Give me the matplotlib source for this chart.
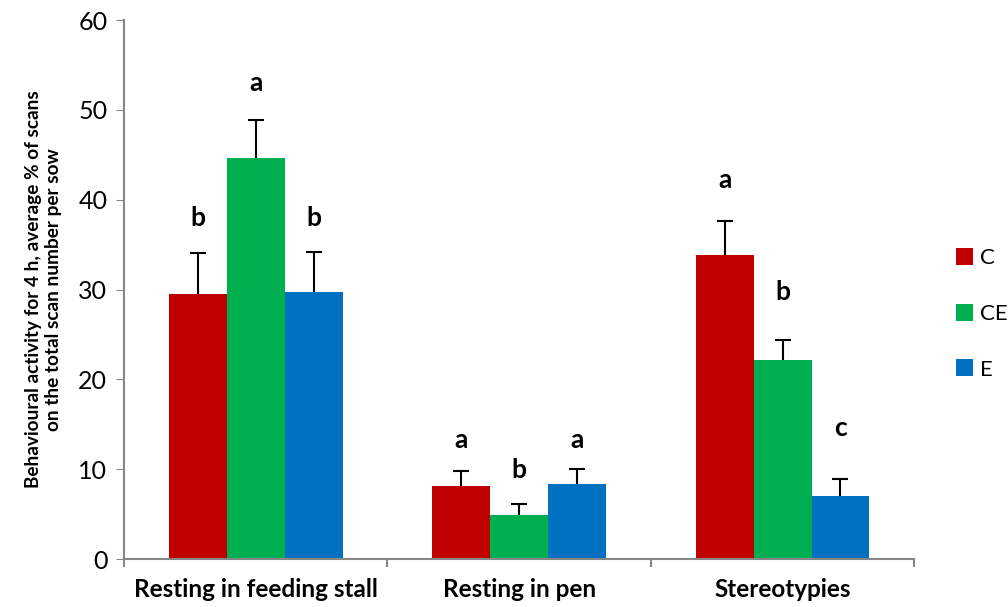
import numpy as np
import matplotlib.pyplot as plt

# -------- Data --------
categories = ["Resting in feeding stall", "Resting in pen", "Stereotypies"]
groups = ["C", "CE", "E"]
colors = ["#C00000", "#00B050", "#0070C0"]

means = {
    "C":  [29.5, 8.1, 33.9],
    "CE": [44.6, 4.9, 22.2],
    "E":  [29.7, 8.4, 7.0],
}
errors = {
    "C":  [4.6, 1.7, 3.7],
    "CE": [4.3, 1.2, 2.2],
    "E":  [4.5, 1.6, 1.9],
}
letters = {
    "C":  ["b", "a", "a"],
    "CE": ["a", "b", "b"],
    "E":  ["b", "a", "c"],
}
letter_y = {
    "C":  [38.0, 13.3, 42.2],
    "CE": [53.0, 9.9, 29.7],
    "E":  [38.0, 13.3, 14.6],
}

plt.rcParams['font.family'] = ['Lato', 'DejaVu Sans']

fig = plt.figure(figsize=(10.08, 6.07), dpi=100)
ax = fig.add_axes([0.123, 0.079, 0.784, 0.888])

x = np.arange(len(categories))
width = 0.22

for i, g in enumerate(groups):
    pos = x + (i - 1) * width
    tops = np.array(means[g]) + np.array(errors[g])
    ax.bar(pos, means[g], width, color=colors[i], label=g)
    # upper error bar only
    ax.vlines(pos, means[g], tops, color='black', linewidth=1.5)
    ax.plot(pos, tops, linestyle='none', marker='_', markersize=12,
            markeredgewidth=1.5, color='black')
    for p, t, ly in zip(pos, letters[g], letter_y[g]):
        ax.text(p, ly, t, ha='center', va='center', fontsize=19, fontweight='bold')

ax.set_xlim(-0.5, 2.5)
ax.set_ylim(0, 60)
ax.set_yticks(range(0, 61, 10))
ax.tick_params(axis='y', labelsize=18, length=6, color='#868686', direction='out', pad=6)
ax.set_xticks(x)
ax.set_xticklabels(categories, fontsize=17.5, fontweight='bold')
ax.tick_params(axis='x', length=0, pad=14)
ax.set_xticks([-0.5, 0.5, 1.5, 2.5], minor=True)
ax.tick_params(axis='x', which='minor', length=6, color='#868686', width=1.5)

for s in ['top', 'right']:
    ax.spines[s].set_visible(False)
for s in ['left', 'bottom']:
    ax.spines[s].set_color('#868686')
    ax.spines[s].set_linewidth(1.5)

ax.set_ylabel("Behavioural activity for 4 h, average % of scans\non the total scan number per sow",
              fontsize=13.7, fontweight='bold', labelpad=12)

handles, labels = ax.get_legend_handles_labels()
fig.legend(handles, labels, loc='center left', bbox_to_anchor=(0.948, 0.483),
           frameon=False, fontsize=16, handlelength=0.8, handleheight=0.8,
           labelspacing=1.6, handletextpad=0.3, borderaxespad=0, borderpad=0)

fig.savefig("out.png", dpi=100)
